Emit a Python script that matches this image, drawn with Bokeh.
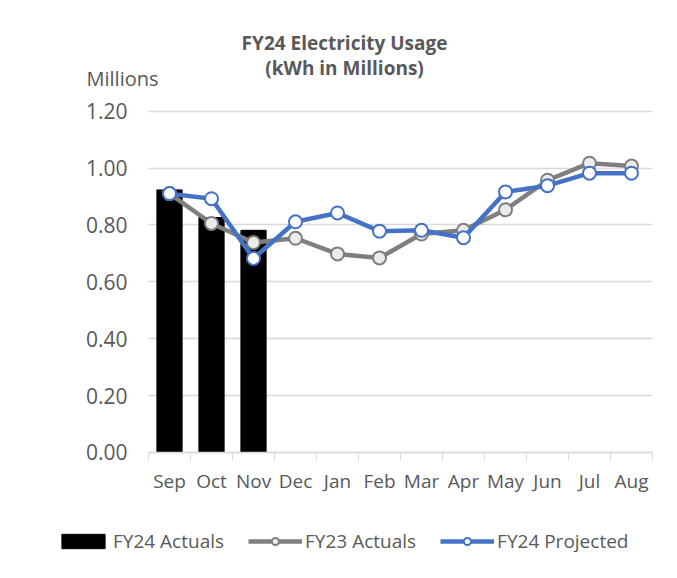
from bokeh.plotting import figure
from bokeh.models import (Range1d, FixedTicker, Label, Legend, LegendItem, NumeralTickFormatter)
from bokeh.embed import file_html
from bokeh.resources import INLINE

months = ["Sep", "Oct", "Nov", "Dec", "Jan", "Feb", "Mar", "Apr", "May", "Jun", "Jul", "Aug"]
fy24_actual_months = ["Sep", "Oct", "Nov"]
fy24_actuals = [0.923, 0.826, 0.781]
fy23_actuals = [0.910, 0.805, 0.738, 0.753, 0.698, 0.684, 0.768, 0.781, 0.853, 0.957, 1.017, 1.007]
fy24_projected = [0.910, 0.892, 0.682, 0.811, 0.842, 0.778, 0.781, 0.755, 0.916, 0.938, 0.982, 0.982]
y_ticks = [0.0, 0.2, 0.4, 0.6, 0.8, 1.0, 1.2]

FONT = "Open Sans"
TXT = "#595959"
GRID = "#d9d9d9"
GRAY = "#7f7f7f"
BLUE = "#4472c4"

pos = {m: i + 0.5 for i, m in enumerate(months)}
x_all = [pos[m] for m in months]
x_bar = [pos[m] for m in fy24_actual_months]

# frame spans whole canvas; axes are pinned at 0 so outer texts can sit inside the frame
p = figure(width=661, height=560, x_range=Range1d(-3.524, 12.214), y_range=Range1d(-0.380, 1.589),
           output_backend="svg", toolbar_location=None,
           min_border_left=0, min_border_right=0, min_border_top=0, min_border_bottom=0)
p.outline_line_color = None
p.background_fill_color = "white"
p.border_fill_color = "white"

# x axis
p.xaxis.fixed_location = 0
p.xaxis.bounds = (0, 12)
p.xaxis.ticker = FixedTicker(ticks=x_all, minor_ticks=list(range(0, 13)))
p.xaxis.major_label_overrides = {pos[m]: m for m in months}
p.xaxis.major_tick_line_color = None
p.xaxis.major_tick_out = 0
p.xaxis.major_tick_in = 0
p.xaxis.minor_tick_line_color = GRID
p.xaxis.minor_tick_out = 8
p.xaxis.minor_tick_in = 0
p.xaxis.axis_line_color = GRID
p.xaxis.axis_line_width = 1.3
p.xaxis.major_label_text_font = FONT
p.xaxis.major_label_text_font_size = "19px"
p.xaxis.major_label_text_color = TXT
p.xaxis.major_label_standoff = 8

# y axis
p.yaxis.fixed_location = 0
p.yaxis.bounds = (0, 1.2)
p.yaxis.ticker = FixedTicker(ticks=y_ticks)
p.yaxis.formatter = NumeralTickFormatter(format="0.00")
p.yaxis.axis_line_color = None
p.yaxis.major_tick_line_color = None
p.yaxis.minor_tick_line_color = None
p.yaxis.major_label_text_font = FONT
p.yaxis.major_label_text_font_size = "21px"
p.yaxis.major_label_text_color = TXT
p.yaxis.major_label_standoff = 15

p.xgrid.grid_line_color = None
p.ygrid.ticker = FixedTicker(ticks=y_ticks)
p.ygrid.bounds = (0, 1.2)
p.ygrid.cross_bounds = (0, 12)
p.ygrid.grid_line_color = GRID
p.ygrid.grid_line_width = 1.3

bars = p.vbar(x=x_bar, top=fy24_actuals, width=0.6, color="black")

l23 = p.line(x_all, fy23_actuals, line_color=GRAY, line_width=4.5)
s23 = p.scatter(x_all, fy23_actuals, size=13, fill_color="#ebebeb", line_color=GRAY, line_width=2)
l24 = p.line(x_all, fy24_projected, line_color=BLUE, line_width=4.5)
s24 = p.scatter(x_all, fy24_projected, size=13, fill_color="white", line_color=BLUE, line_width=2)

legend = Legend(items=[
    LegendItem(label="FY24 Actuals", renderers=[bars]),
    LegendItem(label="FY23 Actuals", renderers=[l23, s23]),
    LegendItem(label="FY24 Projected", renderers=[l24, s24]),
], orientation="horizontal", location=(56, 6), padding=0, margin=0, spacing=24,
    label_standoff=3, glyph_width=54, glyph_height=18, border_line_color=None,
    background_fill_alpha=0, label_text_font=FONT, label_text_font_size="19px",
    label_text_color=TXT)
p.add_layout(legend)

title_lines = ["FY24 Electricity Usage", "(kWh in Millions)"]
title_y = [1.438, 1.350]
for t, yy in zip(title_lines, title_y):
    p.add_layout(Label(x=4.667, y=yy, text=t, text_align="center", text_baseline="middle",
                       text_font=FONT, text_font_size="19px", text_font_style="bold",
                       text_color=TXT))
p.add_layout(Label(x=-1.476, y=1.315, text="Millions", text_align="left", text_baseline="middle",
                   text_font=FONT, text_font_size="20px", text_color=TXT))

open("out.html", "w").write(file_html(p, INLINE))
